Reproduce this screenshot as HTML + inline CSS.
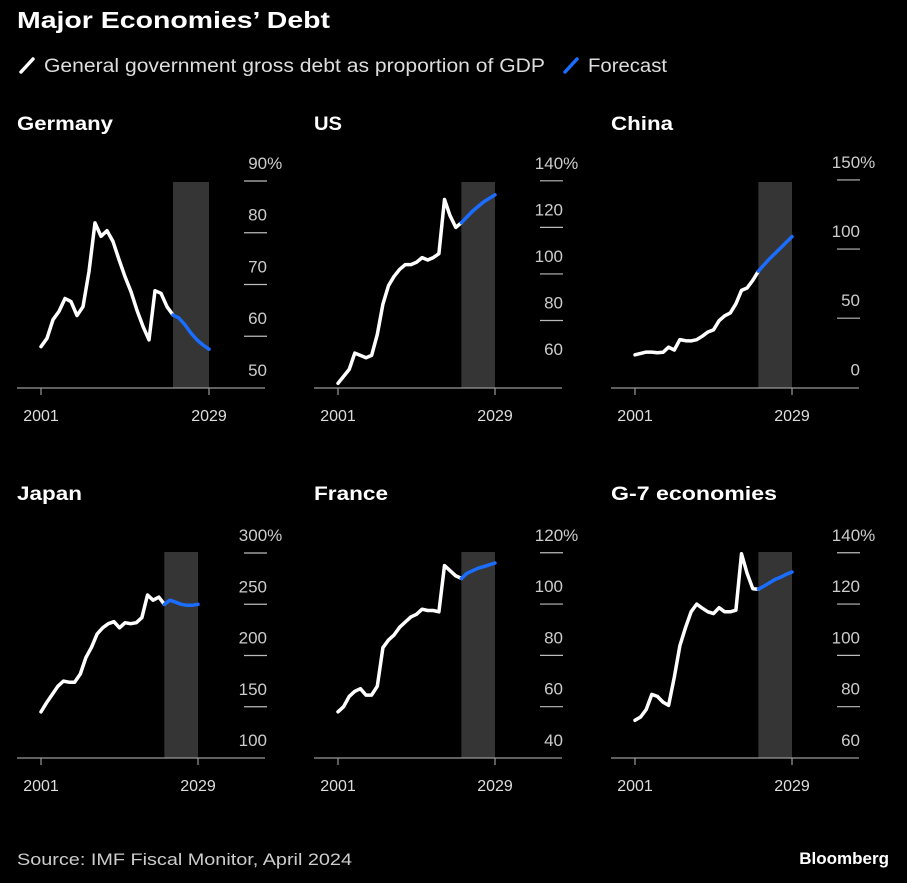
<!DOCTYPE html>
<html><head><meta charset="utf-8"><style>
html,body{margin:0;padding:0;background:#000;}
svg{display:block;font-family:"Liberation Sans",sans-serif;}
</style></head><body>
<svg id="c" width="907" height="883" viewBox="0 0 907 883" xmlns="http://www.w3.org/2000/svg">
<rect width="907" height="883" fill="#000"/>
<text x="17" y="28" fill="#fff" font-size="23" font-weight="bold" textLength="313" lengthAdjust="spacingAndGlyphs">Major Economies’ Debt</text>
<g>
<line x1="21" y1="72" x2="33" y2="59" stroke="#fff" stroke-width="3.5" stroke-linecap="round"/>
<text x="44" y="72" fill="#ddd" font-size="19" textLength="501" lengthAdjust="spacingAndGlyphs">General government gross debt as proportion of GDP</text>
<line x1="565" y1="72" x2="577" y2="59" stroke="#1a6dff" stroke-width="3.5" stroke-linecap="round"/>
<text x="588" y="72" fill="#ddd" font-size="19" textLength="79" lengthAdjust="spacingAndGlyphs">Forecast</text>
</g>
<text x="17" y="865" fill="#ccc" font-size="17" textLength="335" lengthAdjust="spacingAndGlyphs">Source: IMF Fiscal Monitor, April 2024</text>
<text x="889" y="864" fill="#fff" font-size="17" font-weight="bold" text-anchor="end">Bloomberg</text>
</svg>
<script>
const years = [2001,2002,2003,2004,2005,2006,2007,2008,2009,2010,2011,2012,2013,2014,2015,2016,2017,2018,2019,2020,2021,2022,2023,2024,2025,2026,2027,2028,2029];
const forecastStartYear = 2023;
const germanyDebt = [58,59.6,63.2,64.8,67.3,66.7,64,65.7,72.5,81.9,79.3,80.4,78.3,74.8,71.5,68.6,65,61.9,59.3,68.8,68.3,65.7,64.1,63.5,62.2,60.6,59.3,58.3,57.5];
const usDebt = [53,56,59,66,65,64,65,74,87,95,99,102,104,104,105,107,106,107,108.7,132,125,120,122,124.5,127,129,131,132.5,134];
const chinaDebt = [23.5,24.5,25.5,25.5,25,25.3,29,27,34.5,33.7,33.6,34.4,37,40,41.5,48.2,51.7,53.8,60.4,70.1,71.8,77.4,84,88.6,93,97,101,105,109];
const japanDebt = [145,154,162,170,175,174,174,182,198,208,221,227,231,233,227,232,231,232,237,259,254,257,250,254,252,250,249,249,250];
const franceDebt = [58,60,64,66,67,64.5,64.5,68,83,86,88,91,93,95,96,98,97.5,97.5,97,115,113,111,110,112,113,114,114.6,115.3,116];
const g7Debt = [74.7,76,78.9,84.8,84,81.8,80.5,91.5,103.8,110.8,117,120,118.4,117,116.3,118.6,117,117,117.6,139.6,132,126,125.8,127,128.3,129.6,130.5,131.6,132.5];
const germanyTicks = [50,60,70,80,90];
const usTicks = [60,80,100,120,140];
const chinaTicks = [0,50,100,150];
const japanTicks = [100,150,200,250,300];
const franceTicks = [40,60,80,100,120];
const g7Ticks = [60,80,100,120,140];

const NS = "http://www.w3.org/2000/svg";
const svg = document.getElementById('c');
function mk(tag, attrs, parent){
  const e = document.createElementNS(NS, tag);
  for (const k in attrs) e.setAttribute(k, attrs[k]);
  (parent||svg).appendChild(e);
  return e;
}
function panel(slug, title, titleW, left, top, xStart, xEnd, vMin, vMax, values, ticks, gridRight){
  const g = mk('g', {});
  
  
  const base = top + 266, plotTop = top + 60;
  const yS = v => base - (v - vMin) / (vMax - vMin) * (base - plotTop);
  const xS = y => xStart + (y - years[0]) / (years[years.length-1] - years[0]) * (xEnd - xStart);
  const t = mk('text', {x:left, y:top+8, fill:'#fff', 'font-size':19, 'font-weight':'bold', textLength:titleW, lengthAdjust:'spacingAndGlyphs'}, g);
  t.textContent = title;
  
  
  const band = mk('rect', {x:xS(forecastStartYear), y:plotTop, width:xS(years[years.length-1]) - xS(forecastStartYear), height:base-plotTop, fill:'#353535'}, g);
  
  
  ticks.forEach((v, i) => {
    const y = yS(v);
    if (i > 0) {
      const gl = mk('line', {x1:gridRight-23, x2:gridRight, y1:y, y2:y, stroke:'#bbb', 'stroke-width':1.2}, g);
      
      
    }
    const lb = mk('text', {x:gridRight, y:y-12, fill:'#ccc', 'font-size':17, 'text-anchor':'end'}, g);
    lb.textContent = String(v);
    if (i === ticks.length - 1) { const s = mk('tspan', {}, lb); s.textContent = '%'; lb.setAttribute('text-anchor','start'); lb.setAttribute('x', gridRight - (String(v).length*9.4)); }
    
    
  });
  const ax = mk('line', {x1:left, x2:left+248, y1:base, y2:base, stroke:'#999', 'stroke-width':1.2}, g);
  
  
  [years[0], years[years.length-1]].forEach(yr => {
    const x = xS(yr);
    const tk = mk('line', {x1:x, x2:x, y1:base, y2:base+7, stroke:'#999', 'stroke-width':1.2}, g);
    
    
    const tl = mk('text', {x:x, y:base+33, fill:'#ddd', 'font-size':16, 'text-anchor':'middle'}, g);
    tl.textContent = String(yr);
    
    
  });
  const fi = years.indexOf(forecastStartYear);
  const pts = (a, b) => years.slice(a, b).map((yr, i) => xS(yr).toFixed(1) + ',' + yS(values[a+i]).toFixed(1)).join(' ');
  const la = mk('polyline', {points:pts(0, fi+1), fill:'none', stroke:'#fff', 'stroke-width':3.5, 'stroke-linejoin':'round', 'stroke-linecap':'round'}, g);
  
  
  const lf = mk('polyline', {points:pts(fi, years.length), fill:'none', stroke:'#1a6dff', 'stroke-width':3.5, 'stroke-linejoin':'round', 'stroke-linecap':'round'}, g);
  
  
}
panel('germany','Germany',96,17,122,41,209,50,89.8,germanyDebt,germanyTicks,267);
panel('us','US',28,314,122,338,495,51,139.5,usDebt,usTicks,563);
panel('china','China',62,611,122,635,792,-0.5,148.5,chinaDebt,chinaTicks,860);
panel('japan','Japan',65,17,492,41,198,100,301,japanDebt,japanTicks,267);
panel('france','France',74,314,492,338,495,40,120.3,franceDebt,franceTicks,563);
panel('g7','G-7 economies',166,611,492,635,792,60,140.3,g7Debt,g7Ticks,860);
</script>
</body></html>
